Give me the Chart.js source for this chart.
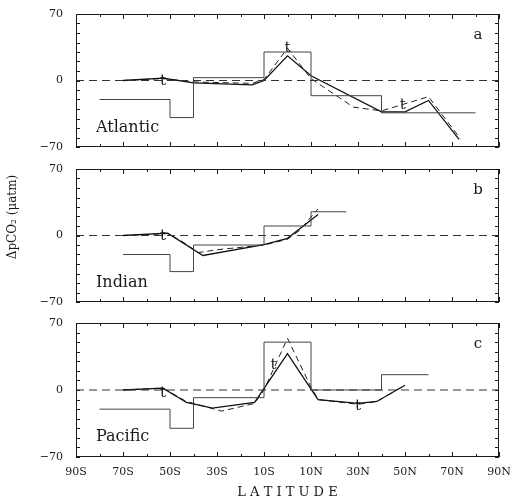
<!DOCTYPE html>
<html>
<head>
<meta charset="utf-8">
<script src="https://cdn.jsdelivr.net/npm/chart.js@4.4.1/dist/chart.umd.min.js"></script>
<style>
    html, body { margin: 0; padding: 0; background: #fff; }
    #wrap { position: relative; width: 512px; height: 503px; }
    #wrap canvas { position: absolute; left: 0; }
</style>
</head>
<body>
<div id="wrap">
    <canvas id="panelA" width="512" height="160" style="top:0"></canvas>
    <canvas id="panelB" width="512" height="155" style="top:155px"></canvas>
    <canvas id="panelC" width="512" height="194" style="top:309px"></canvas>
</div>
<script>
// Tick labels
const latLabels = ['90S', '70S', '50S', '30S', '10S', '10N', '30N', '50N', '70N', '90N'];
const yLabels = { '-70': '\u221270', '0': '0', '70': '70' };

// Atlantic (a)
const atlStepLat = [-80, -50, -40, -10, 10, 40, 80];
const atlStepVal = [-20, -39, 3, 30, -16, -34, -34];
const atlSolidLat = [-70, -53, -40, -15, -10, 0, 10, 40, 50, 60, 73];
const atlSolidVal = [0, 2.5, -2.5, -4.5, 0, 26, 5, -33, -33, -21, -62];
const atlDashLat = [-70, -53, -40, -15, -10, 0, 10, 28, 40, 60, 73.5];
const atlDashVal = [0, 2, -1.5, -3, 1, 34, 2, -28, -32, -17, -61];
const atlMarks = [[-53, -1], [0, 34], [49, -26]];

// Indian (b)
const indStepLat = [-70, -50, -40, -10, 10, 25];
const indStepVal = [-20, -38, -10, 10, 25, 25];
const indSolidLat = [-70, -51, -36, -10, 0, 13];
const indSolidVal = [0, 2.5, -21, -9.5, -3, 22];
const indDashLat = [-70, -51, -45, -38, -30, -10, 0, 5, 13];
const indDashVal = [0, 2, -6, -18, -15, -10, -4, 5, 28];
const indMarks = [[-53, -1]];

// Pacific (c)
const pacStepLat = [-80, -50, -40, -10, 10, 40, 60];
const pacStepVal = [-20, -40, -8, 50, 0, 16, 16];
const pacSolidLat = [-70, -53, -43, -32, -14, 0, 13, 30, 38, 50];
const pacSolidVal = [0, 2, -13, -19, -13, 38, -10, -14, -12, 5];
const pacDashLat = [-70, -53, -43, -28, -14, -10, 0, 10, 13, 30, 38, 50];
const pacDashVal = [0, 2, -12, -22, -14, 0, 54, 3, -10, -15, -12, 5];
const pacMarks = [[-53, -3], [-6, 26], [30, -17]];

const SERIF = '"DejaVu Serif", "Liberation Serif", serif';
const INK = '#1a1a1a';

function pts(lat, val) {
    return lat.map((x, i) => ({ x: x, y: val[i] }));
}

// frame, inward ticks and panel texts
const framePlugin = {
    id: 'frame',
    afterDraw(chart, args, opts) {
        const { ctx, chartArea: a, scales: { x, y } } = chart;
        ctx.save();
        ctx.strokeStyle = INK;
        ctx.lineWidth = 1;
        ctx.strokeRect(a.left + 0.5, a.top + 0.5, a.width - 1, a.height - 1);
        ctx.beginPath();
        x.ticks.forEach(t => {
            const px = Math.round(x.getPixelForValue(t.value)) + 0.5;
            const len = (t.value + 90) % 20 === 0 ? 5 : 3;
            ctx.moveTo(px, a.bottom); ctx.lineTo(px, a.bottom - len);
            ctx.moveTo(px, a.top); ctx.lineTo(px, a.top + len);
        });
        y.ticks.forEach(t => {
            const py = Math.round(y.getPixelForValue(t.value)) + 0.5;
            ctx.moveTo(a.left, py); ctx.lineTo(a.left + 4, py);
            ctx.moveTo(a.right, py); ctx.lineTo(a.right - 4, py);
        });
        ctx.stroke();

        ctx.fillStyle = INK;
        ctx.textBaseline = 'middle';
        ctx.font = '16px ' + SERIF;
        ctx.textAlign = 'left';
        ctx.fillText(opts.name, a.left + 20, a.top + 114);
        ctx.textAlign = 'center';
        ctx.font = '15px ' + SERIF;
        ctx.fillText(opts.letter, a.right - 21, a.top + 21);
        (opts.marks || []).forEach(m => {
            ctx.fillText('t', x.getPixelForValue(m[0]), y.getPixelForValue(m[1]));
        });
        if (opts.yTitle) {
            ctx.translate(13, a.top + 48);
            ctx.rotate(-Math.PI / 2);
            ctx.font = '12px ' + SERIF;
            ctx.fillText(opts.yTitle, 0, 0);
        }
        ctx.restore();
    }
};

// invisible tick marks give the label gap without the extra edge padding
const hiddenTicks = len => ({
    display: true, drawOnChartArea: false, drawTicks: true, tickLength: len, color: 'rgba(0,0,0,0)'
});

function makePanel(canvasId, step, solid, dash, extra) {
    const bottomPanel = !!extra.showX;
    return new Chart(document.getElementById(canvasId), {
        type: 'line',
        data: {
            datasets: [
                { data: [{ x: -90, y: 0 }, { x: 90, y: 0 }], borderColor: '#333', borderWidth: 1, borderDash: [8, 5] },
                { data: step, borderColor: '#444', borderWidth: 1, stepped: 'before' },
                { data: solid, borderColor: '#111', borderWidth: 1.3 },
                { data: dash, borderColor: '#222', borderWidth: 1, borderDash: [6, 4] }
            ]
        },
        options: {
            responsive: false,
            animation: false,
            layout: { padding: { top: 14, right: 13, bottom: extra.padBottom, left: 0 } },
            elements: { point: { radius: 0 }, line: { tension: 0 } },
            plugins: {
                legend: { display: false },
                tooltip: { enabled: false },
                frame: { name: extra.name, letter: extra.letter, marks: extra.marks, yTitle: extra.yTitle }
            },
            scales: {
                x: {
                    type: 'linear', min: -90, max: 90,
                    grid: hiddenTicks(9), border: { display: false },
                    ticks: {
                        display: bottomPanel, stepSize: 10, autoSkip: false, maxRotation: 0, padding: 0,
                        color: INK, font: { family: SERIF, size: 11 },
                        callback: v => (v + 90) % 20 === 0 ? latLabels[(v + 90) / 20] : ''
                    },
                    title: {
                        display: bottomPanel, text: 'L A T I T U D E', color: INK,
                        font: { family: SERIF, size: 13 }, padding: { top: 4, bottom: 0 }
                    },
                    afterFit: s => { s.height = bottomPanel ? 43 : 0; }
                },
                y: {
                    min: -70, max: 70,
                    grid: hiddenTicks(13), border: { display: false },
                    ticks: {
                        stepSize: 10, autoSkip: false, padding: 0, color: INK,
                        font: { family: SERIF, size: 11 },
                        callback: v => yLabels[v] || ''
                    },
                    afterFit: s => { s.width = 76; }
                }
            }
        },
        plugins: [framePlugin]
    });
}

makePanel('panelA', pts(atlStepLat, atlStepVal), pts(atlSolidLat, atlSolidVal), pts(atlDashLat, atlDashVal),
    { name: 'Atlantic', letter: 'a', marks: atlMarks, padBottom: 13 });
makePanel('panelB', pts(indStepLat, indStepVal), pts(indSolidLat, indSolidVal), pts(indDashLat, indDashVal),
    { name: 'Indian', letter: 'b', marks: indMarks, padBottom: 8, yTitle: '\u0394pCO\u2082 (\u03bcatm)' });
makePanel('panelC', pts(pacStepLat, pacStepVal), pts(pacSolidLat, pacSolidVal), pts(pacDashLat, pacDashVal),
    { name: 'Pacific', letter: 'c', marks: pacMarks, padBottom: 3, showX: true });
</script>
</body>
</html>
